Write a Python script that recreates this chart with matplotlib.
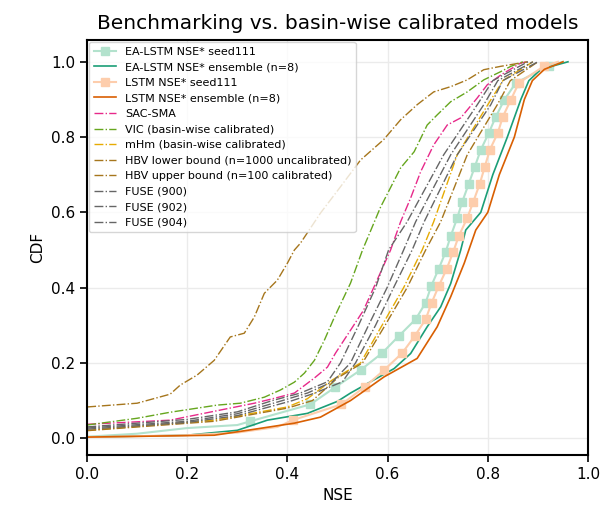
import matplotlib.pyplot as plt

# NSE / CDF points
ea_seed_nse = [-0.5, 0.0, 0.1, 0.2, 0.3,
               0.326, 0.446, 0.496, 0.546, 0.589, 0.622, 0.656, 0.676, 0.687, 0.702, 0.716,
               0.726, 0.739, 0.749, 0.762, 0.774, 0.786, 0.802, 0.816, 0.833, 0.856, 0.922, 0.95]
ea_seed_cdf = [0.0, 0.004, 0.012, 0.027, 0.035,
               0.045, 0.09, 0.136, 0.181, 0.226, 0.271, 0.316, 0.36, 0.404, 0.45, 0.495,
               0.537, 0.585, 0.628, 0.676, 0.721, 0.766, 0.811, 0.854, 0.899, 0.944, 0.989, 1.0]

lstm_seed_nse = [-0.5, 0.0, 0.2, 0.3, 0.38,
                 0.411, 0.508, 0.554, 0.593, 0.629, 0.654, 0.676, 0.688, 0.702, 0.718, 0.731,
                 0.742, 0.759, 0.771, 0.784, 0.794, 0.804, 0.82, 0.83, 0.846, 0.862, 0.913, 0.94]
lstm_seed_cdf = [0.0, 0.003, 0.008, 0.015, 0.03,
                 0.048, 0.09, 0.136, 0.181, 0.226, 0.271, 0.316, 0.36, 0.404, 0.45, 0.495,
                 0.537, 0.585, 0.628, 0.676, 0.721, 0.766, 0.811, 0.854, 0.899, 0.944, 0.989, 1.0]

ea_ens_nse = [-0.3, 0.0, 0.2, 0.3, 0.36, 0.44, 0.5, 0.526, 0.566, 0.613, 0.646, 0.679, 0.706,
              0.726, 0.746, 0.756, 0.786, 0.81, 0.839, 0.866, 0.882, 0.906, 0.96]
ea_ens_cdf = [0.0, 0.003, 0.008, 0.021, 0.048, 0.066, 0.098, 0.12, 0.15, 0.185, 0.225, 0.296, 0.349,
              0.411, 0.5, 0.553, 0.6, 0.7, 0.8, 0.9, 0.95, 0.98, 1.0]

lstm_ens_nse = [-0.3, 0.0, 0.254, 0.32, 0.414, 0.466, 0.526, 0.593, 0.659, 0.699, 0.726, 0.753,
                0.776, 0.80, 0.823, 0.853, 0.873, 0.889, 0.913, 0.95]
lstm_ens_cdf = [0.0, 0.003, 0.008, 0.021, 0.04, 0.056, 0.1, 0.163, 0.212, 0.296, 0.376, 0.465,
                0.553, 0.6, 0.7, 0.8, 0.9, 0.95, 0.98, 1.0]

sac_nse = [-0.3, 0.0, 0.166, 0.334, 0.374, 0.414, 0.454, 0.48, 0.496, 0.526, 0.552, 0.579, 0.606,
           0.626, 0.646, 0.666, 0.692, 0.719, 0.746, 0.779, 0.799, 0.826, 0.866, 0.88]
sac_cdf = [0.02, 0.037, 0.048, 0.093, 0.106, 0.12, 0.16, 0.189, 0.226, 0.287, 0.34, 0.42, 0.5,
           0.575, 0.638, 0.708, 0.779, 0.832, 0.851, 0.904, 0.939, 0.965, 0.997, 1.0]

vic_nse = [-0.3, 0.0, 0.1, 0.166, 0.26, 0.306, 0.354, 0.386, 0.414, 0.434, 0.454, 0.474, 0.494,
           0.526, 0.55, 0.586, 0.626, 0.653, 0.679, 0.699, 0.726, 0.759, 0.792, 0.826, 0.846, 0.87]
vic_cdf = [0.02, 0.035, 0.053, 0.069, 0.088, 0.093, 0.109, 0.128, 0.149, 0.173, 0.207, 0.261, 0.322,
           0.412, 0.5, 0.614, 0.718, 0.761, 0.832, 0.859, 0.894, 0.92, 0.952, 0.974, 0.988, 1.0]

mhm_nse = [-0.3, 0.0, 0.254, 0.4, 0.44, 0.49, 0.546, 0.589, 0.632, 0.669, 0.692, 0.739, 0.8,
           0.83, 0.89]
mhm_cdf = [0.01, 0.021, 0.048, 0.083, 0.105, 0.155, 0.2, 0.3, 0.4, 0.5, 0.575, 0.753, 0.886,
           0.95, 1.0]

hbv_low_nse = [-0.3, 0.0, 0.1, 0.166, 0.186, 0.22, 0.254, 0.286, 0.314, 0.334, 0.354, 0.38, 0.40,
               0.414, 0.426, 0.466, 0.506, 0.546, 0.592, 0.626, 0.659, 0.692, 0.726, 0.759, 0.792,
               0.826, 0.866, 0.88]
hbv_low_cdf = [0.06, 0.083, 0.093, 0.117, 0.141, 0.168, 0.207, 0.269, 0.279, 0.322, 0.385, 0.42,
               0.465, 0.5, 0.518, 0.598, 0.668, 0.739, 0.793, 0.846, 0.886, 0.92, 0.934, 0.952,
               0.979, 0.988, 0.997, 1.0]

hbv_up_nse = [-0.3, 0.0, 0.254, 0.4, 0.45, 0.5, 0.55, 0.595, 0.639, 0.676, 0.706, 0.759, 0.819,
              0.845, 0.9]
hbv_up_cdf = [0.01, 0.02, 0.045, 0.08, 0.1, 0.16, 0.2, 0.3, 0.4, 0.5, 0.575, 0.753, 0.886,
              0.95, 1.0]

fuse900_nse = [-0.3, 0.0, 0.2, 0.3, 0.37, 0.426, 0.48, 0.506, 0.542, 0.576, 0.602, 0.639, 0.712,
               0.779, 0.81, 0.88]
fuse900_cdf = [0.015, 0.03, 0.05, 0.07, 0.1, 0.12, 0.15, 0.2, 0.3, 0.4, 0.5, 0.575, 0.753,
               0.886, 0.95, 1.0]

fuse902_nse = [-0.3, 0.0, 0.2, 0.3, 0.39, 0.44, 0.49, 0.526, 0.562, 0.599, 0.632, 0.656, 0.726,
               0.792, 0.82, 0.89]
fuse902_cdf = [0.015, 0.027, 0.045, 0.065, 0.1, 0.12, 0.15, 0.2, 0.3, 0.4, 0.5, 0.575, 0.753,
               0.886, 0.95, 1.0]

fuse904_nse = [-0.3, 0.0, 0.2, 0.3, 0.41, 0.455, 0.51, 0.536, 0.576, 0.612, 0.649, 0.673, 0.739,
               0.806, 0.83, 0.9]
fuse904_cdf = [0.012, 0.024, 0.042, 0.06, 0.1, 0.12, 0.15, 0.2, 0.3, 0.4, 0.5, 0.575, 0.753,
               0.886, 0.95, 1.0]

fig, ax = plt.subplots(figsize=(6.04, 5.19), dpi=100)
fig.subplots_adjust(left=0.144, right=0.9735, top=0.923, bottom=0.123)

marks = list(range(5, 27))
ax.plot(ea_seed_nse, ea_seed_cdf, color='#b3e2cd', lw=1.5, marker='s', ms=6,
        markevery=marks, label='EA-LSTM NSE* seed111')
ax.plot(ea_ens_nse, ea_ens_cdf, color='#1b9e77', lw=1.2, label='EA-LSTM NSE* ensemble (n=8)')
ax.plot(lstm_seed_nse, lstm_seed_cdf, color='#fdcdac', lw=1.5, marker='s', ms=6,
        markevery=marks, label='LSTM NSE* seed111')
ax.plot(lstm_ens_nse, lstm_ens_cdf, color='#d95f02', lw=1.2, label='LSTM NSE* ensemble (n=8)')

ax.plot(sac_nse, sac_cdf, '-.', color='#e7298a', lw=1, label='SAC-SMA')
ax.plot(vic_nse, vic_cdf, '-.', color='#66a61e', lw=1, label='VIC (basin-wise calibrated)')
ax.plot(mhm_nse, mhm_cdf, '-.', color='#e6ab02', lw=1, label='mHm (basin-wise calibrated)')
ax.plot(hbv_low_nse, hbv_low_cdf, '-.', color='#a6761d', lw=1,
        label='HBV lower bound (n=1000 uncalibrated)')
ax.plot(hbv_up_nse, hbv_up_cdf, '-.', color='#a6761d', lw=1,
        label='HBV upper bound (n=100 calibrated)')
ax.plot(fuse900_nse, fuse900_cdf, '-.', color='#666666', lw=1, label='FUSE (900)')
ax.plot(fuse902_nse, fuse902_cdf, '-.', color='#666666', lw=1, label='FUSE (902)')
ax.plot(fuse904_nse, fuse904_cdf, '-.', color='#666666', lw=1, label='FUSE (904)')

ax.set_xlim(0, 1)
ax.set_ylim(-0.045, 1.058)
ax.set_xticks([0, 0.2, 0.4, 0.6, 0.8, 1.0])
ax.set_yticks([0, 0.2, 0.4, 0.6, 0.8, 1.0])
ax.grid(True, color='#ebebeb', lw=1)
ax.set_axisbelow(True)
for s in ax.spines.values():
    s.set_linewidth(1.5)
ax.tick_params(labelsize=11, length=5, width=1.2)
ax.set_xlabel('NSE', fontsize=11)
ax.set_ylabel('CDF', fontsize=11)
ax.set_title('Benchmarking vs. basin-wise calibrated models', fontsize=14.5, pad=8)
ax.legend(loc='upper left', fontsize=8, framealpha=0.8, borderaxespad=0.2)

fig.savefig('out.png', dpi=100)
